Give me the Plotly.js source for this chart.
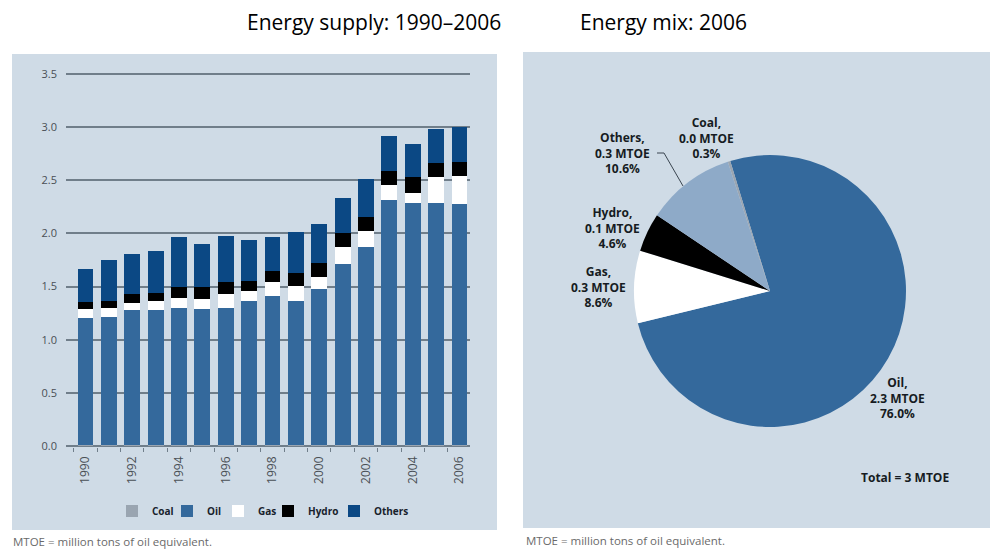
<!DOCTYPE html>
<html>
<head>
<meta charset="utf-8">
<script src="https://cdn.plot.ly/plotly-3.0.1.min.js"></script>
<style>html,body{margin:0;padding:0;background:#fff;}#chart{width:999px;height:551px;}</style>
</head>
<body>
<div id="chart"></div>
<script>
// ---- Data ----
const years = [1990,1991,1992,1993,1994,1995,1996,1997,1998,1999,2000,2001,2002,2003,2004,2005,2006];
const coal   = [0.01,0.01,0.01,0.01,0.01,0.01,0.01,0.01,0.01,0.01,0.01,0.01,0.01,0.01,0.01,0.01,0.01];
const oil    = [1.19,1.20,1.27,1.27,1.29,1.28,1.29,1.355,1.40,1.355,1.47,1.70,1.86,2.30,2.28,2.28,2.27];
const gas    = [0.09,0.09,0.065,0.085,0.09,0.09,0.13,0.095,0.13,0.145,0.11,0.16,0.15,0.15,0.09,0.24,0.26];
const hydro  = [0.065,0.065,0.085,0.075,0.11,0.12,0.11,0.09,0.11,0.12,0.13,0.13,0.13,0.13,0.15,0.13,0.13];
const others = [0.31,0.385,0.38,0.39,0.47,0.40,0.44,0.39,0.32,0.38,0.37,0.33,0.36,0.33,0.31,0.32,0.33];
const seriesNames = ['Coal','Oil','Gas','Hydro','Others'];
const yTicks = [0,0.5,1.0,1.5,2.0,2.5,3.0,3.5];
const xTickYears = [1990,1992,1994,1996,1998,2000,2002,2004,2006];

const pieLabels = ['Oil','Gas','Hydro','Others','Coal'];
const pieMtoe   = [2.3,0.3,0.1,0.3,0.0];
const piePct    = [76.0,8.6,4.6,10.6,0.3];
const totalMtoe = 3;

// ---- Helpers (pixel -> paper) ----
const W = 999, H = 551;
const px = x => x / W;
const py = y => 1 - y / H;

const barColors = {Coal:'#9aa5b1', Oil:'#34699c', Gas:'#ffffff', Hydro:'#000000', Others:'#0b4884'};
const pieColors = ['#34699c','#ffffff','#000000','#8eaac8','#9aa5b1'];
const seriesData = [coal, oil, gas, hydro, others];

const traces = seriesNames.map((n, i) => ({
  type: 'bar', x: years, y: seriesData[i], name: n,
  width: 0.68,
  marker: {color: barColors[n], line: {width: 0}},
  legend: i === 0 ? 'legend' : 'legend' + (i + 1),
  hoverinfo: 'skip'
}));

traces.push({
  type: 'pie', labels: pieLabels, values: piePct, sort: false,
  direction: 'clockwise', rotation: -17,
  marker: {colors: pieColors, line: {width: 0}},
  textinfo: 'none', showlegend: false, hoverinfo: 'none',
  domain: {x: [px(634), px(906)], y: [py(427), py(155)]}
});

// legends positions (swatch centres)
const legendX = [132, 187, 238, 288, 354];
const legendFont = {family: 'Open Sans, Noto Sans, sans-serif', size: 10, color: '#18222c', weight: 'bold'};
const legends = {};
legendX.forEach((lx, i) => {
  const key = i === 0 ? 'legend' : 'legend' + (i + 1);
  legends[key] = {
    x: px(lx - 20), y: py(511), xanchor: 'left', yanchor: 'middle',
    orientation: 'h', bgcolor: 'rgba(0,0,0,0)', borderwidth: 0,
    font: legendFont, itemwidth: 30
  };
});

// annotations
const ann = [];
const lblFont = {family: 'Open Sans, Noto Sans, sans-serif', size: 12, color: '#161b22', weight: 'bold'};
const pieLabelPos = {
  Coal:   {cx: 706, cy: 138},
  Others: {cx: 622, cy: 153},
  Hydro:  {cx: 612, cy: 228},
  Gas:    {cx: 598, cy: 287},
  Oil:    {cx: 897, cy: 398}
};
pieLabels.forEach((l, i) => {
  const p = pieLabelPos[l];
  ann.push({
    xref: 'paper', yref: 'paper', x: px(p.cx), y: py(p.cy),
    text: l + ',<br>' + pieMtoe[i].toFixed(1) + ' MTOE<br>' + piePct[i].toFixed(1) + '%',
    showarrow: false, xanchor: 'center', yanchor: 'middle', align: 'center', font: lblFont
  });
});
ann.push({xref:'paper', yref:'paper', x: px(905), y: py(477), text: 'Total = ' + totalMtoe + ' MTOE',
  showarrow:false, xanchor:'center', yanchor:'middle', font: lblFont});

const titleFont = {family: 'Open Sans, Noto Sans, sans-serif', size: 21, color: '#000'};
ann.push({xref:'paper', yref:'paper', x: px(245), y: py(22), text: 'Energy supply: ' + years[0] + '–' + years[years.length-1],
  showarrow:false, xanchor:'left', yanchor:'middle', font: titleFont});
ann.push({xref:'paper', yref:'paper', x: px(578), y: py(22), text: 'Energy mix: ' + years[years.length-1],
  showarrow:false, xanchor:'left', yanchor:'middle', font: titleFont});

const noteFont = {family: 'Open Sans, Noto Sans, sans-serif', size: 11.5, color: '#6a6a6a'};
ann.push({xref:'paper', yref:'paper', x: px(11), y: py(541), text: 'MTOE = million tons of oil equivalent.',
  showarrow:false, xanchor:'left', yanchor:'middle', font: noteFont});
ann.push({xref:'paper', yref:'paper', x: px(524), y: py(540), text: 'MTOE = million tons of oil equivalent.',
  showarrow:false, xanchor:'left', yanchor:'middle', font: noteFont});

const panelColor = '#cfdbe6';
const shapes = [
  {type:'rect', xref:'paper', yref:'paper', x0: px(12), x1: px(497), y0: py(530), y1: py(54), fillcolor: panelColor, line:{width:0}, layer:'below'},
  {type:'rect', xref:'paper', yref:'paper', x0: px(523), x1: px(990), y0: py(528), y1: py(52), fillcolor: panelColor, line:{width:0}, layer:'below'},
  {type:'path', xref:'paper', yref:'paper',
   path: 'M' + px(657) + ',' + py(153) + ' L' + px(664) + ',' + py(153) + ' L' + px(683) + ',' + py(186),
   line: {color: '#3a4550', width: 1}}
];

const gridColor = '#707e8a';
const unitPx = (446 - 74) / 3.5;
const layout = Object.assign({
  width: W, height: H, autosize: false,
  margin: {l: 0, r: 0, t: 0, b: 0, pad: 0},
  paper_bgcolor: '#ffffff', plot_bgcolor: 'rgba(0,0,0,0)',
  barmode: 'stack', showlegend: true,
  xaxis: {
    domain: [px(66), px(470)], range: [1989.166, 2006.449],
    tickvals: xTickYears, ticktext: xTickYears.map(String), ticks: '', tickangle: -90,
    tickfont: {family: 'Open Sans, Noto Sans, sans-serif', size: 12, color: '#4a4f55'},
    ticklabelstandoff: 6,
    showgrid: false, zeroline: false, showline: false, fixedrange: true,
    minor: {tick0: 1989.5, dtick: 1, ticks: 'outside', ticklen: 4, tickcolor: gridColor, tickwidth: 1, showgrid: false}
  },
  yaxis: {
    domain: [py(446 + 0.01 * unitPx), py(74 - 0.01 * unitPx)], range: [-0.01, 3.51],
    tickvals: yTicks, tickformat: '.1f', ticks: '',
    tickfont: {family: 'Open Sans, Noto Sans, sans-serif', size: 11, color: '#4a4f55'},
    ticklabelstandoff: 8,
    showgrid: true, gridcolor: gridColor, gridwidth: 2, zeroline: false, showline: false, fixedrange: true
  },
  annotations: ann, shapes: shapes
}, legends);

Plotly.newPlot('chart', traces, layout, {displayModeBar: false, staticPlot: true});
</script>
</body>
</html>
